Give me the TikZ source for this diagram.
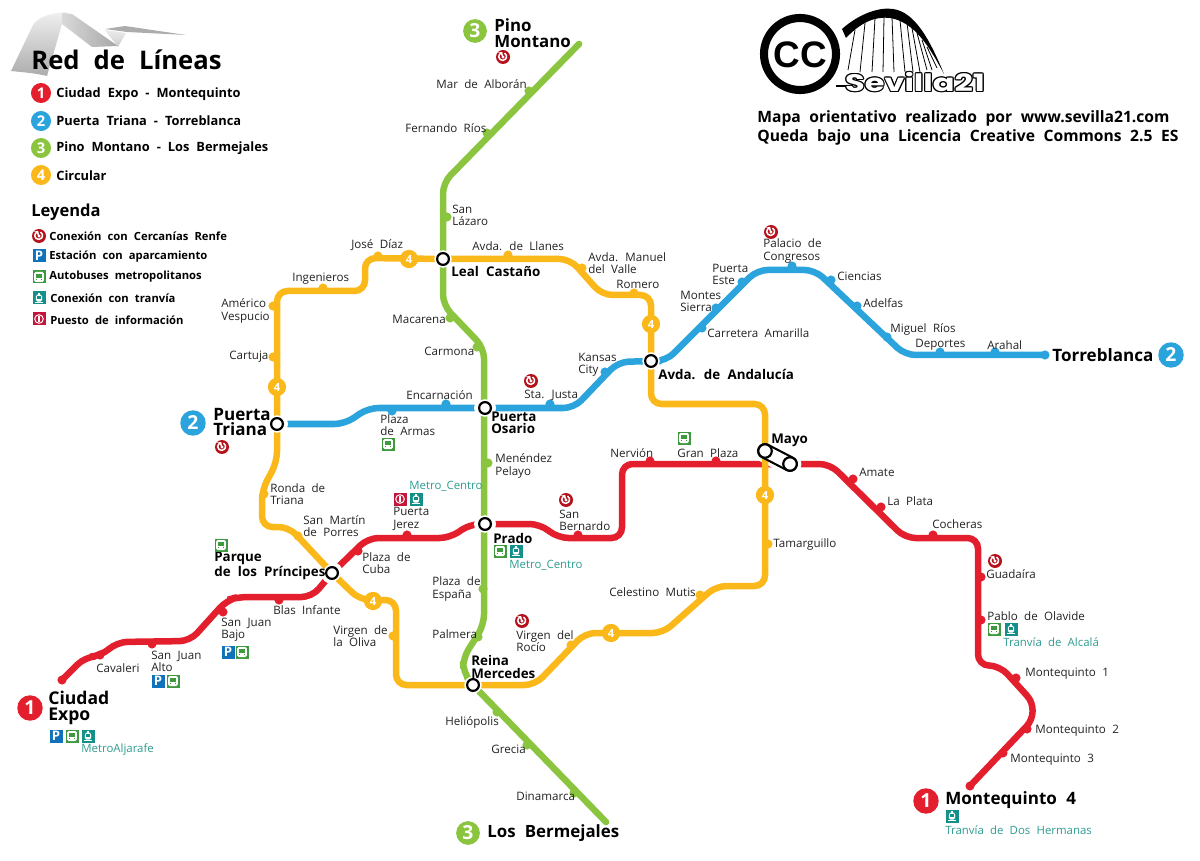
\documentclass[tikz,border=0pt]{standalone}
\usepackage{fontspec}
\setmainfont{Open Sans}[WordSpace=2.1]
\newfontfamily\logofont{Liberation Sans}[WordSpace=1]
\newfontfamily\widefont{Poppins}[WordSpace=1]
\definecolor{cRed}{HTML}{E31E2D}
\definecolor{cBlue}{HTML}{2BA3DC}
\definecolor{cGreen}{HTML}{8BC53F}
\definecolor{cYellow}{HTML}{FBB81B}
\definecolor{cTeal}{HTML}{2E9C90}
\definecolor{cTram}{HTML}{13908A}
\definecolor{cBus}{HTML}{3F9A3F}
\definecolor{cPark}{HTML}{0F72BA}
\definecolor{cInfo}{HTML}{C4153A}
\definecolor{cRenfe}{HTML}{B5121B}
\definecolor{cInk}{HTML}{222222}
\pgfdeclarelayer{lines}
\pgfsetlayers{lines,main}
\tikzset{
  lab/.style={anchor=west,inner sep=0pt,align=left,text=cInk,font=\fontsize{6.6}{6.9}\selectfont},
  boldlab/.style={anchor=west,inner sep=0pt,align=left,text=black,font=\bfseries\fontsize{7.6}{6.9}\selectfont},
  biglab/.style={anchor=west,inner sep=0pt,align=left,text=black,font=\bfseries\fontsize{9.7}{9.1}\selectfont},
  teallab/.style={anchor=west,inner sep=0pt,align=left,text=cTeal,font=\fontsize{6.5}{7}\selectfont},
  leglab/.style={anchor=west,inner sep=0pt,text=black,font=\bfseries\fontsize{7.3}{8}\selectfont},
  legsmall/.style={anchor=west,inner sep=0pt,text=black,font=\bfseries\fontsize{6.4}{7}\selectfont},
  footlab/.style={anchor=west,inner sep=0pt,text=black,font=\bfseries\fontsize{8.9}{9}\selectfont},
  lineR/.style={draw=cRed,line width=3.7pt,rounded corners=6pt,line cap=round},
  lineB/.style={draw=cBlue,line width=3.7pt,rounded corners=6pt,line cap=round},
  lineG/.style={draw=cGreen,line width=3.7pt,rounded corners=6pt,line cap=round},
  lineY/.style={draw=cYellow,line width=3.7pt,rounded corners=6pt,line cap=round},
  dot/.style={circle,inner sep=0pt,minimum size=5.2pt},
  ring/.style={circle,draw=black,fill=white,line width=1.25pt,inner sep=0pt,minimum size=6.7pt,preaction={draw=white,line width=3.2pt}},
  badge/.style={circle,inner sep=0pt,text=white,font=\bfseries},
  badgeF/.style={badge,fill=cYellow,minimum size=10.4pt,font=\bfseries\fontsize{6.4}{7}\selectfont},
  bigbadge/.style={badge,minimum size=14.5pt,font=\bfseries\fontsize{11}{11}\selectfont},
  legbadge/.style={badge,minimum size=11.4pt,font=\bfseries\fontsize{8.4}{9}\selectfont},
  pics/iP/.style={code={
    \fill[cPark] (-6.5,-6.5) rectangle (6.5,6.5);
    \node[text=white,inner sep=0pt,font=\bfseries\fontsize{7.5}{7.5}\selectfont] at (0,0) {P};}},
  pics/iB/.style={code={
    \fill[cBus] (-6.5,-6.5) rectangle (6.5,6.5);
    \fill[white,rounded corners=0.8pt] (-4.8,-5) rectangle (4.8,5);
    \fill[cBus] (-3.4,-3.2) rectangle (3.4,0.8);
    \fill[cBus] (-3.4,2.2) rectangle (-1.8,3.4);
    \fill[cBus] (3.4,2.2) rectangle (1.8,3.4);}},
  pics/iT/.style={code={
    \fill[cTram] (-6.5,-6.5) rectangle (6.5,6.5);
    \fill[white,rounded corners=1pt] (-3.2,-3.4) rectangle (3.2,3.6);
    \fill[cTram] (-2.1,-1.8) rectangle (2.1,0.6);
    \fill[white] (-1.2,-5) rectangle (1.2,-3);
    \fill[white] (-4,4.2) rectangle (4,5.2);}},
  pics/iI/.style={code={
    \fill[cInfo] (-6.5,-6.5) rectangle (6.5,6.5);
    \draw[white,line width=0.55pt] (0,0) circle (4.3);
    \fill[white] (-0.8,-2.8) rectangle (0.8,2.8);}},
  pics/iR/.style={code={
    \fill[cRenfe] (0,0) circle (7);
    \draw[white,line width=0.85pt] (-3.4,-3) arc (220:-60:3.9) ;
    \fill[white] (0,0) circle (1.6);
    \fill[white] (0.2,-0.2) -- (-4.8,-4.5) -- (-0.8,-5) -- cycle;}}
}
% station: id, colour, x, y, label x, label y, text
\newcommand{\st}[7]{%
  \node[dot,fill=#2] (#1) at (#3,#4) {};
  \node[lab] (#1-l) at (#5,#6) {#7};}
\begin{document}
\begin{tikzpicture}[x=0.02cm,y=-0.02cm]
\useasboundingbox (0,0) rectangle (1200,861);
% ribbon
\shade[top color=gray!12,bottom color=gray!65] (11,71) -- (33,25) .. controls (38,17) and (50,13) .. (68,12) -- (62,24) -- (47,76) .. controls (35,73) and (20,72) .. (11,71);
\shade[left color=gray!30,right color=gray!70] (62,13) -- (72,14) -- (118,46) -- (92,47) -- (62,24) -- cycle;
\shade[top color=gray!15,bottom color=gray!40] (105,30) -- (126,33) -- (118,47) -- cycle;
\fill[gray!65] (105,29) -- (125,26) -- (186,35) -- (127,32) -- cycle;
% legend
\node[anchor=west,inner sep=0pt,font=\bfseries\fontsize{14.6}{16}\selectfont] (title) at (31,60) {Red de Líneas};
\node[legbadge,fill=cRed] (b1) at (41,93) {1};
\node[leglab] (t1) at (56,94) {Ciudad Expo - Montequinto};
\node[legbadge,fill=cBlue] (b2) at (41,121) {2};
\node[leglab] (t2) at (56,121) {Puerta Triana - Torreblanca};
\node[legbadge,fill=cGreen] (b3) at (41,148) {3};
\node[leglab] (t3) at (56,148) {Pino Montano - Los Bermejales};
\node[legbadge,fill=cYellow] (b4) at (41,175) {4};
\node[leglab] (t4) at (56,176) {Circular};
\node[anchor=west,inner sep=0pt,font=\bfseries\fontsize{9.4}{10}\selectfont] (ley) at (31,212) {Leyenda};
\pic at (39,236) {iR};
\node[legsmall] (k1) at (49,236) {Conexión con Cercanías Renfe};
\pic at (39,256) {iP};
\node[legsmall] (k2) at (49,257) {Estación con aparcamiento};
\pic at (39,277) {iB};
\node[legsmall] (k3) at (49,277) {Autobuses metropolitanos};
\pic at (39,298) {iT};
\node[legsmall] (k4) at (50,298) {Conexión con tranvía};
\pic at (39,319) {iI};
\node[legsmall] (k5) at (50,320) {Puesto de información};
% logo
\draw[black,line width=4.6pt] (800,54) circle (36);
\node[inner sep=0pt,font=\logofont\bfseries\fontsize{21}{21}\selectfont] (cc) at (800,55) {CC};
\fill[black] (842,29) .. controls (860,13) and (880,7) .. (893,9) .. controls (915,12) and (930,40) .. (944,74) .. controls (930,48) and (915,22) .. (890,18) .. controls (875,16) and (860,23) .. (846,38) -- cycle;
\foreach \a/\b/\c/\d in {855/30/848/70, 865/23/860/72, 875/18/872/72, 884/17/883/72, 892/17/894/72, 900/20/905/72, 907/23/913/72, 912/28/920/72, 917/33/927/70, 922/40/932/70, 927/47/937/68}
  \draw[black,line width=0.45pt] (\a,\b) -- (\c,\d);
\draw[black,line width=0.7pt] (836,86) -- (850,86);
\foreach \dx/\dy in {-1.2/0,1.2/0,0/-1.2,0/1.2,-.9/-.9,.9/.9,-.9/.9,.9/-.9}
  \node[inner sep=0pt,text=black,font=\widefont\bfseries\fontsize{13.6}{14}\selectfont,xscale=1.34] at (915+\dx,82+\dy) {Sevilla21};
\node[inner sep=0pt,text=white,font=\widefont\bfseries\fontsize{13.6}{14}\selectfont,xscale=1.34] (sev) at (915,82) {Sevilla21};
\node[footlab] (f1) at (757,118) {Mapa orientativo realizado por www.sevilla21.com};
\node[footlab] (f2) at (757,137) {Queda bajo una Licencia Creative Commons 2.5 ES};
% interchanges
\node[ring] (leal) at (443,259) {};
\node[ring] (osario) at (485,408) {};
\node[ring] (prado) at (485,524) {};
\node[ring] (reina) at (473,685) {};
\node[ring] (andalucia) at (651,361) {};
\node[ring] (triana) at (277,424) {};
\node[ring] (parque) at (332,573) {};
\node[boldlab] (leal-l) at (451,271) {Leal Castaño};
\node[boldlab] (osario-l) at (491,423) {Puerta\\Osario};
\node[boldlab] (prado-l) at (493,538) {Prado};
\node[boldlab] (reina-l) at (471,667) {Reina\\Mercedes};
\node[boldlab] (andalucia-l) at (658,374) {Avda. de Andalucía};
\node[boldlab] (parque-l) at (214,566) {Parque\\de los Príncipes};
\node[boldlab] (mayo-l) at (771,440) {Mayo};
\node[biglab] (triana-l) at (213,422) {Puerta\\Triana};
\node[biglab,font=\bfseries\fontsize{10}{9.2}\selectfont] (ce-l) at (48,708) {Ciudad\\Expo};
\node[biglab,font=\bfseries\fontsize{9.6}{9.2}\selectfont] (pm-l) at (494,33) {Pino\\Montano};
\node[biglab,font=\bfseries\fontsize{9.6}{10}\selectfont] (lb-l) at (487,833) {Los Bermejales};
\node[biglab] (m4-l) at (945,800) {Montequinto 4};
\node[biglab] (torre-l) at (1052,355) {Torreblanca};
\node[bigbadge,fill=cBlue] (b-tr) at (193,423) {2};
\node[bigbadge,fill=cRed] (b-ce) at (30,708) {1};
\node[bigbadge,fill=cGreen,minimum size=13.5pt] (b-pm) at (475,31) {3};
\node[bigbadge,fill=cGreen,minimum size=13.5pt] (b-lb) at (468,833) {3};
\node[bigbadge,fill=cRed] (b-m4) at (926,801) {1};
\node[bigbadge,fill=cBlue] (b-to) at (1171,355) {2};
% line ends
\node[dot,fill=cRed] (ce) at (62,680) {};
\node[dot,fill=cRed] (m4) at (970,786) {};
\node[dot,fill=cBlue] (torre) at (1045,355) {};
\node[dot,fill=cGreen,minimum size=3.6pt] (pm) at (579,44) {};
\node[dot,fill=cGreen,minimum size=3.6pt] (lb) at (606,822) {};
% Mayo
\coordinate (mayoA) at (765,451);
\coordinate (mayoB) at (790,464);
\begin{pgfonlayer}{lines}
  \draw[lineR] (ce.center) -- (85,657) -- (101,656) -- (117,642) -- (190,641) -- (227,600) -- (238,597) -- (312,597) -- (parque.center) -- (368,538) -- (450,538) -- (470,524) -- (prado.center) -- (540,524) -- (558,538) -- (622,538) -- (622,464) -- (mayoB) -- (830,464) -- (905,538) -- (978,538) -- (978,665) -- (1000,666) [rounded corners=12pt] -- (1041,711) -- (m4.center);
  \draw[lineB] (triana.center) -- (345,424) -- (368,408) -- (osario.center) -- (574,408) -- (618,362) -- (andalucia.center) -- (666,361) -- (757,270) -- (815,270) -- (905,355) -- (torre.center);
  \fill[white] (triana) circle (11);
  \fill[white] (osario) circle (11);
  \fill[white] (prado) circle (11);
  \fill[white] (parque) circle (11);
  \draw[white,line width=13pt,line cap=round] (mayoA) -- (mayoB);
  \draw[lineG] (pm.center) -- (443,183) -- (443,305) -- (484,348) -- (484,625) -- (463,658) -- (463,672) -- (reina.center) -- (lb.center);
  \draw[lineY] (leal.center) -- (570,259) -- (602,295) -- (651,295) -- (andalucia.center) -- (651,404) -- (765,404) -- (mayoA) -- (765,586) -- (716,586) -- (663,633) -- (585,633) -- (535,685) -- (reina.center) -- (396,685) -- (396,600) -- (360,600) -- (parque.center) -- (289,527) -- (262,527) -- (262,490) -- (277,462) -- (triana.center) -- (277,291) -- (365,291) -- (365,258) -- (leal.center);
\end{pgfonlayer}
\draw[black,line width=9pt,line cap=round] (mayoA) -- (mayoB);
\draw[white,line width=6.5pt,line cap=round] (mayoA) -- (mayoB);
\node[circle,draw=black,fill=white,line width=1.25pt,inner sep=0pt,minimum size=7.7pt] (mayoAn) at (mayoA) {};
\node[circle,draw=black,fill=white,line width=1.25pt,inner sep=0pt,minimum size=7.7pt] (mayoBn) at (mayoB) {};
% line 4 badges
\node[badgeF] (y1) at (409,259) {4};
\node[badgeF] (y2) at (651,324) {4};
\node[badgeF] (y3) at (277,387) {4};
\node[badgeF] (y4) at (373,601) {4};
\node[badgeF] (y5) at (611,633) {4};
\node[badgeF] (y6) at (765,495) {4};
% stations line 3
\st{alboran}{cGreen}{529}{91}{436}{84}{Mar de Alborán}
\st{frios}{cGreen}{487}{133}{405}{128}{Fernando Ríos}
\st{lazaro}{cGreen}{447}{217}{452}{215}{San\\Lázaro}
\st{macarena}{cGreen}{450}{318}{392}{319}{Macarena}
\st{carmona}{cGreen}{477}{347}{424}{351}{Carmona}
\st{menendez}{cGreen}{488}{463}{495}{466}{Menéndez\\Pelayo}
\st{espana}{cGreen}{483}{589}{432}{589}{Plaza de\\España}
\st{palmera}{cGreen}{478}{637}{432}{634}{Palmera}
\st{heliopolis}{cGreen}{497}{712}{445}{722}{Heliópolis}
\st{grecia}{cGreen}{527}{745}{491}{749}{Grecia}
\st{dinamarca}{cGreen}{574}{793}{516}{796}{Dinamarca}
% stations line 2
\st{armas}{cBlue}{392}{411}{380}{425}{Plaza\\de Armas}
\st{encarnacion}{cBlue}{446}{404}{406}{395}{Encarnación}
\st{justa}{cBlue}{550}{404}{524}{395}{Sta. Justa}
\st{kansas}{cBlue}{605}{372}{578}{365}{Kansas\\City}
\st{amarilla}{cBlue}{702}{328}{707}{333}{Carretera Amarilla}
\st{sierra}{cBlue}{716}{308}{680}{301}{Montes\\Sierra}
\st{este}{cBlue}{742}{282}{712}{274}{Puerta\\Este}
\st{palacio}{cBlue}{792}{266}{763}{251}{Palacio de\\Congresos}
\st{ciencias}{cBlue}{831}{280}{837}{276}{Ciencias}
\st{adelfas}{cBlue}{857}{306}{863}{303}{Adelfas}
\st{mrios}{cBlue}{887}{337}{890}{329}{Miguel Ríos}
\st{deportes}{cBlue}{940}{352}{915}{345}{Deportes}
\st{arahal}{cBlue}{995}{352}{987}{345}{Arahal}
% stations line 1
\st{cavaleri}{cRed}{100}{655}{96}{668}{Cavaleri}
\st{sjalto}{cRed}{152}{644}{151}{661}{San Juan\\Alto}
\st{sjbajo}{cRed}{223}{612}{221}{630}{San Juan\\Bajo}
\st{blas}{cRed}{279}{600}{273}{610}{Blas Infante}
\st{cuba}{cRed}{358}{551}{362}{563}{Plaza de\\Cuba}
\st{jerez}{cRed}{407}{535}{393}{519}{Puerta\\Jerez}
\st{bernardo}{cRed}{578}{535}{559}{520}{San\\Bernardo}
\st{nervion}{cRed}{650}{461}{610}{453}{Nervión}
\st{gplaza}{cRed}{716}{461}{677}{453}{Gran Plaza}
\st{amate}{cRed}{853}{479}{859}{472}{Amate}
\st{plata}{cRed}{881}{507}{887}{501}{La Plata}
\st{cocheras}{cRed}{933}{535}{932}{524}{Cocheras}
\st{guadaira}{cRed}{981}{577}{986}{574}{Guadaíra}
\st{olavide}{cRed}{981}{620}{987}{616}{Pablo de Olavide}
\st{mq1}{cRed}{1016}{678}{1025}{674}{Montequinto 1}
\st{mq2}{cRed}{1027}{729}{1035}{731}{Montequinto 2}
\st{mq3}{cRed}{1003}{753}{1010}{760}{Montequinto 3}
% stations line 4
\st{llanes}{cYellow}{508}{255}{472}{246}{Avda. de Llanes}
\st{manuel}{cYellow}{582}{268}{588}{263}{Avda. Manuel\\del Valle}
\st{romero}{cYellow}{634}{293}{616}{284}{Romero}
\st{diaz}{cYellow}{378}{256}{351}{245}{José Díaz}
\st{ingenieros}{cYellow}{323}{288}{292}{279}{Ingenieros}
\st{americo}{cYellow}{273}{306}{221}{311}{Américo\\Vespucio}
\st{cartuja}{cYellow}{273}{357}{229}{357}{Cartuja}
\st{ronda}{cYellow}{264}{494}{270}{494}{Ronda de\\Triana}
\st{martin}{cYellow}{298}{536}{303}{526}{San Martín\\de Porres}
\st{oliva}{cYellow}{393}{636}{333}{636}{Virgen de\\la Oliva}
\st{rocio}{cYellow}{571}{645}{516}{641}{Virgen del\\Rocío}
\st{mutis}{cYellow}{700}{595}{609}{592}{Celestino Mutis}
\st{tamarguillo}{cYellow}{768}{544}{773}{544}{Tamarguillo}
% teal labels
\node[teallab] (tl1) at (409,486) {Metro\_Centro};
\node[teallab] (tl2) at (509,565) {Metro\_Centro};
\node[teallab] (tl3) at (81,749) {MetroAljarafe};
\node[teallab] (tl4) at (1003,642) {Tranvía de Alcalá};
\node[teallab] (tl5) at (945,830) {Tranvía de Dos Hermanas};
% icons
\foreach \a/\b in {222/447,771/232,531/381,566/500,522/621,995/561,503/57} \pic at (\a,\b) {iR};
\foreach \a/\b in {388/444,684/438,221/545,500/551,242/652,173/681,72/736,994/629} \pic at (\a,\b) {iB};
\foreach \a/\b in {228/652,158/681,56/736} \pic at (\a,\b) {iP};
\foreach \a/\b in {416/499,516/551,88/736,1011/629,952/816} \pic at (\a,\b) {iT};
\pic at (400,499) {iI};
\end{tikzpicture}
\end{document}
